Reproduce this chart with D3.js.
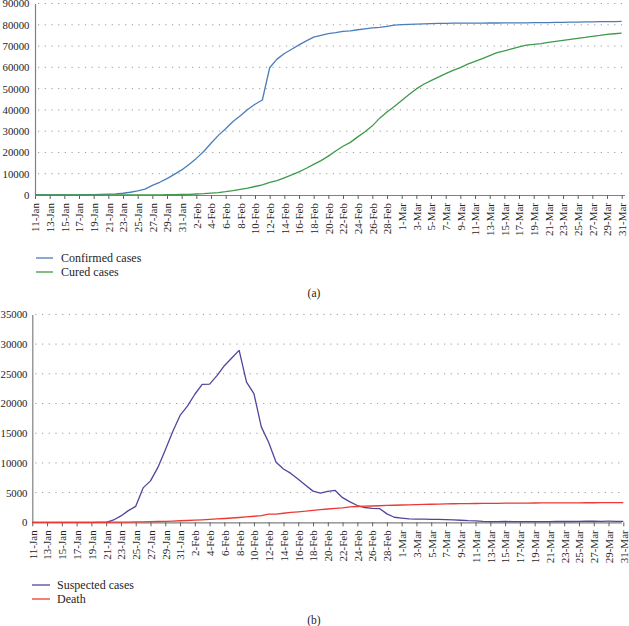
<!DOCTYPE html>
<html>
<head>
<meta charset="utf-8">
<script src="https://cdn.jsdelivr.net/npm/d3@7"></script>
<style>
  html, body { margin: 0; padding: 0; background: #fff; }
  svg { display: block; }
  svg text { font-family: "Liberation Serif", "Times New Roman", serif; fill: #1e1e1e; }
</style>
</head>
<body>
<svg id="chart" width="629" height="626"></svg>
<script>
// ---- Data (daily, 11-Jan to 31-Mar) ----
const tickLabels = ["11-Jan","13-Jan","15-Jan","17-Jan","19-Jan","21-Jan","23-Jan","25-Jan","27-Jan","29-Jan","31-Jan",
  "2-Feb","4-Feb","6-Feb","8-Feb","10-Feb","12-Feb","14-Feb","16-Feb","18-Feb","20-Feb","22-Feb","24-Feb","26-Feb","28-Feb",
  "1-Mar","3-Mar","5-Mar","7-Mar","9-Mar","11-Mar","13-Mar","15-Mar","17-Mar","19-Mar","21-Mar","23-Mar","25-Mar","27-Mar","29-Mar","31-Mar"];

const confirmed = [41,41,41,41,41,45,62,121,198,291,440,571,830,1287,1975,2744,4515,5974,7711,9692,11791,
  14380,17205,20438,24324,28018,31161,34546,37198,40171,42638,44653,59804,63851,66492,68500,70548,72436,74185,75002,75891,76288,76936,77150,77658,78064,78497,78824,79251,79824,
  80026,80151,80270,80409,80552,80651,80695,80735,80754,80778,80793,80813,80824,80844,80860,80881,80894,80928,80967,81008,81054,81093,81171,81218,81285,81340,81394,81439,81470,81518,81554];

const cured = [2,5,6,7,9,12,15,19,21,25,28,28,34,38,49,51,60,103,124,171,243,
  328,475,632,892,1153,1540,2050,2649,3281,3996,4740,5911,6723,8096,9419,10844,12552,14376,16155,18264,20659,22888,24734,27323,29745,32495,36117,39002,41625,
  44462,47204,49856,52045,53726,55404,57065,58600,59897,61475,62793,64111,65541,66911,67749,68679,69601,70420,70790,71150,71740,72244,72703,73159,73650,74051,74588,74971,75448,75790,76052];

const suspected = [0,0,0,0,0,0,0,0,0,0,0,393,1072,1965,2684,5794,6973,9239,12167,15238,17988,
  19544,21558,23214,23260,24702,26359,27657,28942,23589,21675,16067,13435,10109,8969,8228,7264,6242,5248,4922,5206,5365,4148,3434,2824,2491,2358,2308,1418,851,
  715,587,520,522,482,502,458,421,349,285,253,147,115,113,134,128,119,105,104,106,118,136,132,134,159,189,174,168,183,171,172];

const deaths = [1,1,1,1,2,2,2,3,4,6,9,17,25,41,56,80,106,132,170,213,259,
  304,361,425,490,563,636,722,811,908,1016,1113,1367,1380,1523,1665,1770,1868,2004,2118,2236,2345,2442,2592,2663,2715,2744,2788,2835,2870,
  2912,2943,2981,3012,3042,3070,3097,3119,3136,3158,3169,3176,3189,3199,3213,3226,3237,3245,3248,3255,3261,3270,3277,3281,3287,3292,3295,3300,3304,3305,3312];

const topTicks = [0,10000,20000,30000,40000,50000,60000,70000,80000,90000];
const bottomTicks = [0,5000,10000,15000,20000,25000,30000,35000];

const panels = [
  { series: [{name:"Confirmed cases", values: confirmed, color:"#4a7ebb"},
             {name:"Cured cases", values: cured, color:"#3e9a4a"}],
    yMax: 90000, yTicks: topTicks, caption: "(a)",
    x0: 35, x1: 621.7, yTop: 3.5, yBot: 195, gridEnd: 625, labelX: 29.5,
    legendY: 258, legendX0: 36, legendX1: 53, legendTX: 61, captionY: 297 },
  { series: [{name:"Suspected cases", values: suspected, color:"#54459a"},
             {name:"Death", values: deaths, color:"#ec3a33"}],
    yMax: 35000, yTicks: bottomTicks, caption: "(b)",
    x0: 32.3, x1: 623.3, yTop: 314.4, yBot: 522.3, gridEnd: 622, labelX: 27.5,
    legendY: 585, legendX0: 32, legendX1: 50, legendTX: 57, captionY: 624 }
];

const svg = d3.select("#chart");
svg.append("rect").attr("width", 629).attr("height", 626).attr("fill", "#fff");

panels.forEach(p => {
  const n = p.series[0].values.length;
  const x = d3.scaleLinear().domain([0, n - 1]).range([p.x0, p.x1]);
  const y = d3.scaleLinear().domain([0, p.yMax]).range([p.yBot, p.yTop]);
  const g = svg.append("g");

  // gridlines
  g.append("g").selectAll("line").data(p.yTicks.filter(t => t > 0)).join("line")
    .attr("x1", p.x0 + 3).attr("x2", p.gridEnd)
    .attr("y1", d => y(d)).attr("y2", d => y(d))
    .attr("stroke", "#9a9a9a").attr("stroke-width", 1)
    .attr("stroke-dasharray", "1.2,5.5");

  // y axis
  const yAxis = g.append("g").attr("transform", `translate(${p.x0},0)`)
    .call(d3.axisLeft(y).tickValues(p.yTicks).tickFormat(d3.format("d"))
      .tickSize(0).tickSizeOuter(0).tickPadding(p.x0 - p.labelX));
  yAxis.attr("font-family", null);
  yAxis.select(".domain").attr("stroke", "#808080").attr("stroke-width", 1.2);
  yAxis.selectAll("text").attr("font-size", 10.8);

  // x axis
  const tickIdx = tickLabels.map((_, i) => i * 2);
  const xAxis = g.append("g").attr("transform", `translate(0,${p.yBot})`)
    .call(d3.axisBottom(x).tickValues(tickIdx).tickFormat((d, i) => tickLabels[i]).tickSize(4).tickSizeOuter(0));
  xAxis.attr("font-family", null);
  xAxis.select(".domain").attr("stroke", "#808080").attr("stroke-width", 1.2)
    .attr("d", `M${p.x0},0.5H${p.gridEnd}`);
  xAxis.selectAll(".tick line").attr("stroke", "#606060");
  xAxis.selectAll("text")
    .attr("font-size", 11)
    .attr("text-anchor", "end").attr("dy", "0.35em")
    .attr("transform", "translate(0,1) rotate(-90)")
    .attr("x", -7).attr("y", 0);

  // lines
  const line = d3.line().x((d, i) => x(i)).y(d => y(d));
  p.series.forEach(s => {
    g.append("path").datum(s.values)
      .attr("fill", "none").attr("stroke", s.color).attr("stroke-width", 1.3)
      .attr("stroke-linejoin", "round").attr("d", line);
  });

  // legend
  p.series.forEach((s, i) => {
    const ly = p.legendY + i * 14;
    g.append("line").attr("x1", p.legendX0).attr("x2", p.legendX1)
      .attr("y1", ly).attr("y2", ly).attr("stroke", s.color).attr("stroke-width", 1.3);
    g.append("text").attr("x", p.legendTX).attr("y", ly).attr("dy", "0.35em")
      .attr("font-size", 12).text(s.name);
  });

  // caption
  g.append("text").attr("x", 314).attr("y", p.captionY).attr("text-anchor", "middle")
    .attr("font-size", 11.5).text(p.caption);
});
</script>
</body>
</html>
